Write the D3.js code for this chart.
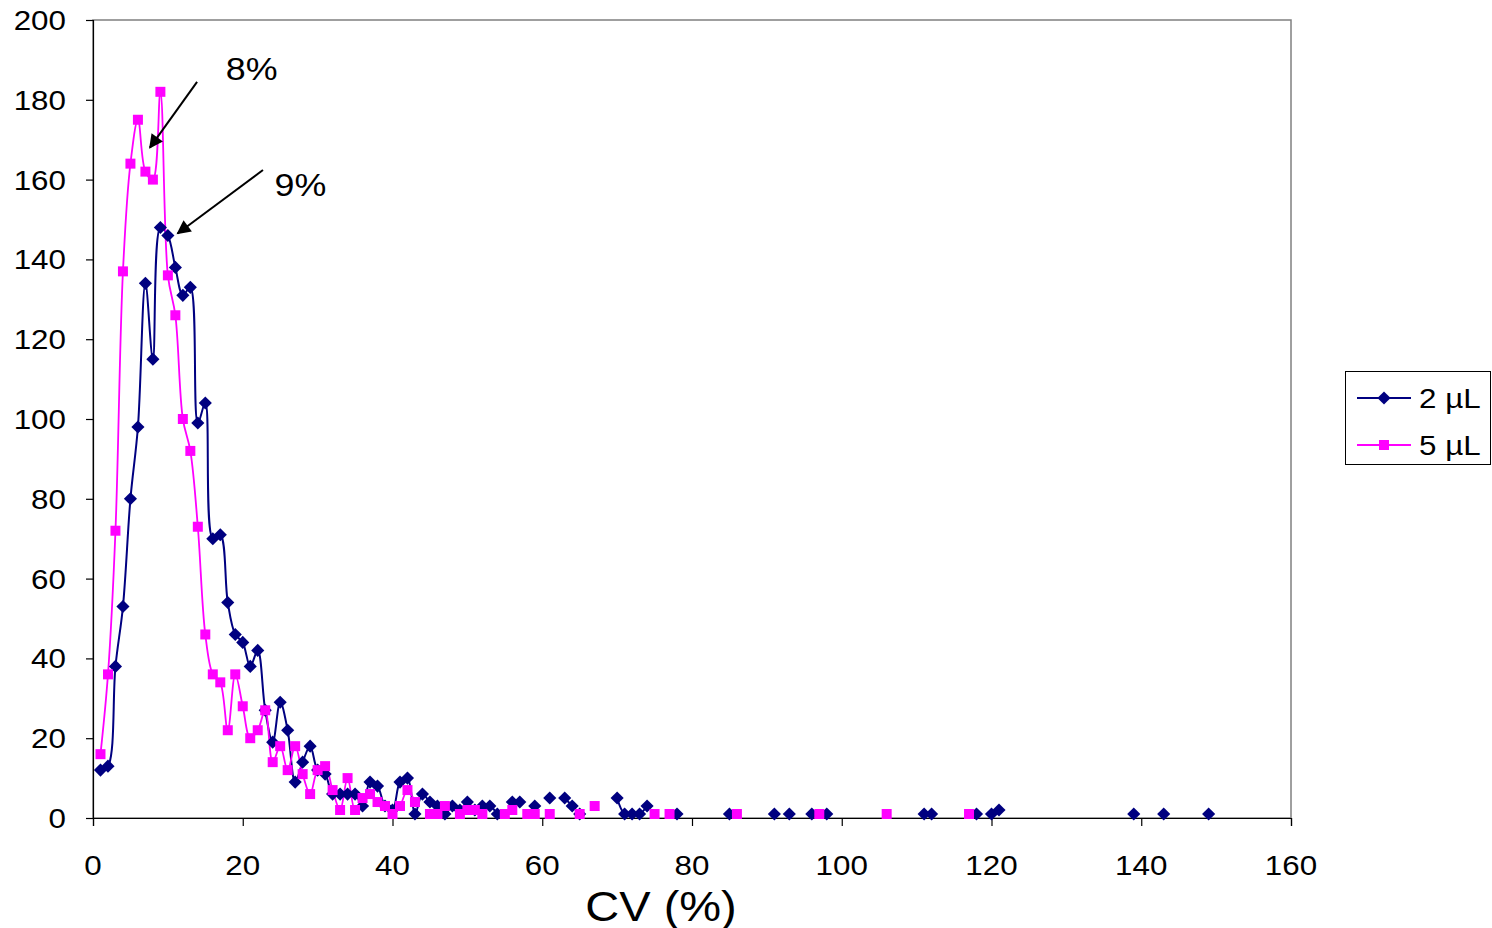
<!DOCTYPE html>
<html><head><meta charset="utf-8">
<script src="https://cdn.jsdelivr.net/npm/d3@7"></script>
<style>html,body{margin:0;padding:0;background:#fff;}svg{display:block;font-family:"Liberation Sans",Arial,sans-serif;}</style>
</head><body>
<svg id="c" width="1492" height="928"></svg>
<script>
// CV (%) values and counts
const cv2 = [1,2,3,4,5,6,7,8,9,10,11,12,13,14,15,16,17,18,19,20,21,22,23,24,25,26,27,28,29,30,31,32,33,34,35,36,37,38,39,40,41,42,43,44,45,46,47,48,49,50,51,52,53,54,56,57,59,61,63,64,65,70,71,72,73,74,78,85,91,93,96,98,111,112,118,120,121,139,143,149];
const n2  = [12,13,38,53,80,98,134,115,148,146,138,131,133,99,104,70,71,54,46,44,38,42,27,19,29,22,9,14,18,12,11,6,6,6,6,3,9,8,3,2,9,10,1,6,4,3,1,3,2,4,2,3,3,1,4,4,3,5,5,3,1,5,1,1,1,3,1,1,1,1,1,1,1,1,1,1,2,1,1,1];
const cv5 = [1,2,3,4,5,6,7,8,9,10,11,12,13,14,15,16,17,18,19,20,21,22,23,24,25,26,27,28,29,30,31,32,33,34,35,36,37,38,39,40,41,42,43,45,46,47,49,50,51,52,55,56,58,59,61,65,67,75,77,86,97,106,117];
const n5  = [16,36,72,137,164,175,162,160,182,136,126,100,92,73,46,36,34,22,36,28,20,22,27,14,18,12,18,11,6,12,13,7,2,10,2,5,6,4,3,1,3,7,4,1,1,3,1,2,2,1,1,2,1,1,1,1,3,1,1,1,1,1,1];
const seriesNames = ["2 \u00b5L","5 \u00b5L"];
const xTicks = [0,20,40,60,80,100,120,140,160];
const yTicks = [0,20,40,60,80,100,120,140,160,180,200];
// annotation text anchor, arrow start and arrow tip in data units
const annLabels = ["8%","9%"];
const annText   = [[21.2,185],[27.7,156]];
const annFrom   = [[13.9,184.5],[22.7,162.4]];
const annTo     = [[7.6,168],[11.3,146.5]];

const svg = d3.select("#c");
const L=93, R=1291, T=20, B=818;
const x = d3.scaleLinear().domain([0,160]).range([L,R]);
const y = d3.scaleLinear().domain([0,200]).range([B,T]);
const SX = 1.12;

function stext(g, tx, ty, str, size, anchor){
  return g.append("text").attr("transform",`translate(${tx},${ty}) scale(${SX},1)`)
    .attr("text-anchor",anchor).attr("font-size",size).attr("fill","#000").text(str);
}

// plot border
svg.append("rect").attr("x",L).attr("y",T).attr("width",R-L).attr("height",B-T)
  .attr("fill","none").attr("stroke","#808080").attr("stroke-width",1.5);

// axes
const yAxis = svg.append("g").attr("transform",`translate(${L},0)`)
  .call(d3.axisLeft(y).tickValues(yTicks).tickSize(7).tickFormat(""));
const xAxis = svg.append("g").attr("transform",`translate(0,${B})`)
  .call(d3.axisBottom(x).tickValues(xTicks).tickSize(8).tickFormat(""));
[yAxis,xAxis].forEach(a=>{a.selectAll("path,line").attr("stroke","#000").attr("stroke-width",1.2);});
const labels = svg.append("g");
yTicks.forEach(t=>stext(labels, 66, y(t)+10, String(t), 28, "end"));
xTicks.forEach(t=>stext(labels, x(t), 875, String(t), 28, "middle"));
stext(labels, (L+R)/2 - 31, 921, "CV (%)", 42, "middle");

// build points; break lines where CV values are not consecutive (blank cells)
function withGaps(cv, n){
  const out = [];
  cv.forEach((v,i)=>{
    if(i>0 && v - cv[i-1] > 1) out.push(null);
    out.push([v,n[i]]);
  });
  return out;
}
const d2 = cv2.map((v,i)=>[v,n2[i]]);
const d5 = cv5.map((v,i)=>[v,n5[i]]);
const line = d3.line().defined(d=>d!==null).x(d=>x(d[0])).y(d=>y(d[1])).curve(d3.curveCatmullRom.alpha(0.5));
const colors = ["#000080","#ff00ff"];

svg.append("path").datum(withGaps(cv2,n2)).attr("d",line).attr("fill","none").attr("stroke",colors[0]).attr("stroke-width",2);
svg.append("path").datum(withGaps(cv5,n5)).attr("d",line).attr("fill","none").attr("stroke",colors[1]).attr("stroke-width",1.8);

const diamond = d3.symbol().type(d3.symbolDiamond2).size(110);
const square = d3.symbol().type(d3.symbolSquare).size(100);
svg.append("g").selectAll("path").data(d2).join("path")
  .attr("transform",d=>`translate(${x(d[0])},${y(d[1])})`).attr("d",diamond).attr("fill",colors[0]);
svg.append("g").selectAll("path").data(d5).join("path")
  .attr("transform",d=>`translate(${x(d[0])},${y(d[1])})`).attr("d",square).attr("fill",colors[1]);

// annotations with arrows
const defs = svg.append("defs");
defs.append("marker").attr("id","ah").attr("viewBox","0 0 10 10").attr("refX",9).attr("refY",5)
  .attr("markerWidth",20).attr("markerHeight",14).attr("markerUnits","userSpaceOnUse").attr("orient","auto")
  .append("path").attr("d","M0,0 L10,5 L0,10 Z").attr("fill","#000");
const ann = svg.append("g");
annLabels.forEach((lab,i)=>{
  stext(ann, x(annText[i][0]), y(annText[i][1]), lab, 32, "middle");
  ann.append("line").attr("x1",x(annFrom[i][0])).attr("y1",y(annFrom[i][1]))
    .attr("x2",x(annTo[i][0])).attr("y2",y(annTo[i][1]))
    .attr("stroke","#000").attr("stroke-width",2).attr("marker-end","url(#ah)");
});

// legend
const lg = svg.append("g");
lg.append("rect").attr("x",1345.5).attr("y",371.5).attr("width",145).attr("height",93)
  .attr("fill","#fff").attr("stroke","#000").attr("stroke-width",1);
[0,1].forEach(i=>{
  const yy = 398 + i*47;
  lg.append("line").attr("x1",1357).attr("x2",1411).attr("y1",yy).attr("y2",yy).attr("stroke",colors[i]).attr("stroke-width",2);
  lg.append("path").attr("transform",`translate(1384,${yy})`).attr("d",i===0?diamond:square).attr("fill",colors[i]);
  stext(lg, 1419, yy+10, seriesNames[i], 28, "start");
});
</script>
</body></html>
